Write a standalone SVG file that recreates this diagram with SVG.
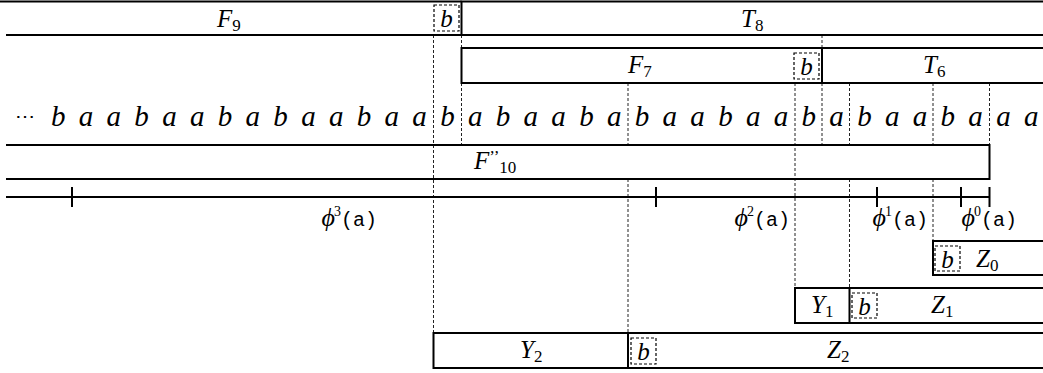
<svg xmlns="http://www.w3.org/2000/svg" width="1043" height="373" viewBox="0 0 1043 373">
<style>
.s{stroke:#000;stroke-width:2;fill:none}
.d{stroke:#222;stroke-width:1;stroke-dasharray:3 2;fill:none}
.bx{stroke:#000;stroke-width:1.2;stroke-dasharray:3 2;fill:none}
.t{font-family:"Liberation Serif","Times New Roman",serif;font-style:italic;font-size:25px;fill:#000}
.w{font-family:"Liberation Serif","Times New Roman",serif;font-style:italic;font-size:29px;fill:#000}
.sub{font-style:normal;font-size:17px}
.m{font-family:"Liberation Mono","Courier New",monospace;font-style:normal;font-size:20px}
.sup{font-style:normal;font-size:14px}
.ph{font-size:26px}
</style>
<rect width="1043" height="373" fill="#fff"/>
<g id="connectors">
<path class="d" d="M433.5,35V333"/>
<path class="d" d="M461.5,35V48M461.5,83V145"/>
<path class="d" d="M628,83V145M628,179V333"/>
<path class="d" d="M795,83V288"/>
<path class="d" d="M822,35V48M822,83V145"/>
<path class="d" d="M849.5,83V145M849.5,179V288"/>
<path class="d" d="M933,83V145M933,179V241"/>
<path class="d" d="M989.5,83V145"/>
</g>
<g id="F9">
<path class="s" d="M0,1.5H461.5M6,35H461.5"/>
<text class="t" x="217" y="27">F<tspan class="sub" dy="4">9</tspan></text>
<rect class="bx" x="434" y="5" width="25" height="26"/>
<text class="t" x="446.5" y="27" text-anchor="middle">b</text>
</g>
<g id="T8">
<path class="s" d="M461.5,1.5H1043M461.5,35H1043M461.5,0.5V35"/>
<text class="t" x="741" y="27">T<tspan class="sub" dy="4">8</tspan></text>
</g>
<g id="F7">
<path class="s" d="M822,48H461.5V83H822"/>
<text class="t" x="628" y="73">F<tspan class="sub" dy="4">7</tspan></text>
<rect class="bx" x="794" y="53" width="25" height="26"/>
<text class="t" x="806.5" y="75" text-anchor="middle">b</text>
</g>
<g id="T6">
<path class="s" d="M1043,48H822V83H1043"/>
<text class="t" x="923" y="73">T<tspan class="sub" dy="4">6</tspan></text>
</g>
<g id="word">
<text x="15" y="123" style="font-family:'DejaVu Serif',serif;font-size:20px">⋯</text>
<text class="w" y="126" text-anchor="middle" x="58.2 86 113.8 141.6 169.4 197.2 225 252.8 280.6 308.4 336.2 364 391.8 419.6 447.4 475.2 503 530.8 558.6 586.4 614.2 642 669.8 697.6 725.4 753.2 781 808.8 836.6 864.4 892.2 920 947.8 975.6 1003.4 1031.2">baabaababaabaababaababaabaababaabaaa</text>
</g>
<g id="F10">
<path class="s" d="M6,145H989.5V179H6"/>
<text class="t" x="474" y="169">F<tspan class="sub" dy="-7" dx="0">’’</tspan><tspan class="sub" dx="0" dy="11">10</tspan></text>
</g>
<g id="axis">
<path class="s" d="M6,197H989.5M72,187V207M656,187V207M877,187V207M961,187V207M989.5,187V207"/>
<text class="t" x="377" y="226" text-anchor="end"><tspan class="ph">ϕ</tspan><tspan class="sup" dy="-10" dx="-1">3</tspan><tspan class="m" dy="10">(a)</tspan></text>
<text class="t" x="790" y="226" text-anchor="end"><tspan class="ph">ϕ</tspan><tspan class="sup" dy="-10" dx="-1">2</tspan><tspan class="m" dy="10">(a)</tspan></text>
<text class="t" x="928" y="226" text-anchor="end"><tspan class="ph">ϕ</tspan><tspan class="sup" dy="-10" dx="-1">1</tspan><tspan class="m" dy="10">(a)</tspan></text>
<text class="t" x="1017" y="226" text-anchor="end"><tspan class="ph">ϕ</tspan><tspan class="sup" dy="-10" dx="-1">0</tspan><tspan class="m" dy="10">(a)</tspan></text>
</g>
<g id="Z0">
<path class="s" d="M1043,241H933V275H1043"/>
<rect class="bx" x="935" y="246" width="25" height="25"/>
<text class="t" x="947.5" y="268" text-anchor="middle">b</text>
<text class="t" x="976" y="267">Z<tspan class="sub" dy="4">0</tspan></text>
</g>
<g id="Y1">
<path class="s" d="M849.5,288H795V323H849.5"/>
<text class="t" x="811" y="313">Y<tspan class="sub" dy="4">1</tspan></text>
</g>
<g id="Z1">
<path class="s" d="M1043,288H849.5V323H1043"/>
<rect class="bx" x="852" y="293" width="25" height="25"/>
<text class="t" x="864.5" y="315" text-anchor="middle">b</text>
<text class="t" x="931" y="313">Z<tspan class="sub" dy="4">1</tspan></text>
</g>
<g id="Y2">
<path class="s" d="M628,333H433.5V368H628"/>
<text class="t" x="520" y="358">Y<tspan class="sub" dy="4">2</tspan></text>
</g>
<g id="Z2">
<path class="s" d="M1043,333H628V368H1043"/>
<rect class="bx" x="631" y="338" width="25" height="26"/>
<text class="t" x="643.5" y="360" text-anchor="middle">b</text>
<text class="t" x="827" y="358">Z<tspan class="sub" dy="4">2</tspan></text>
</g>
</svg>
